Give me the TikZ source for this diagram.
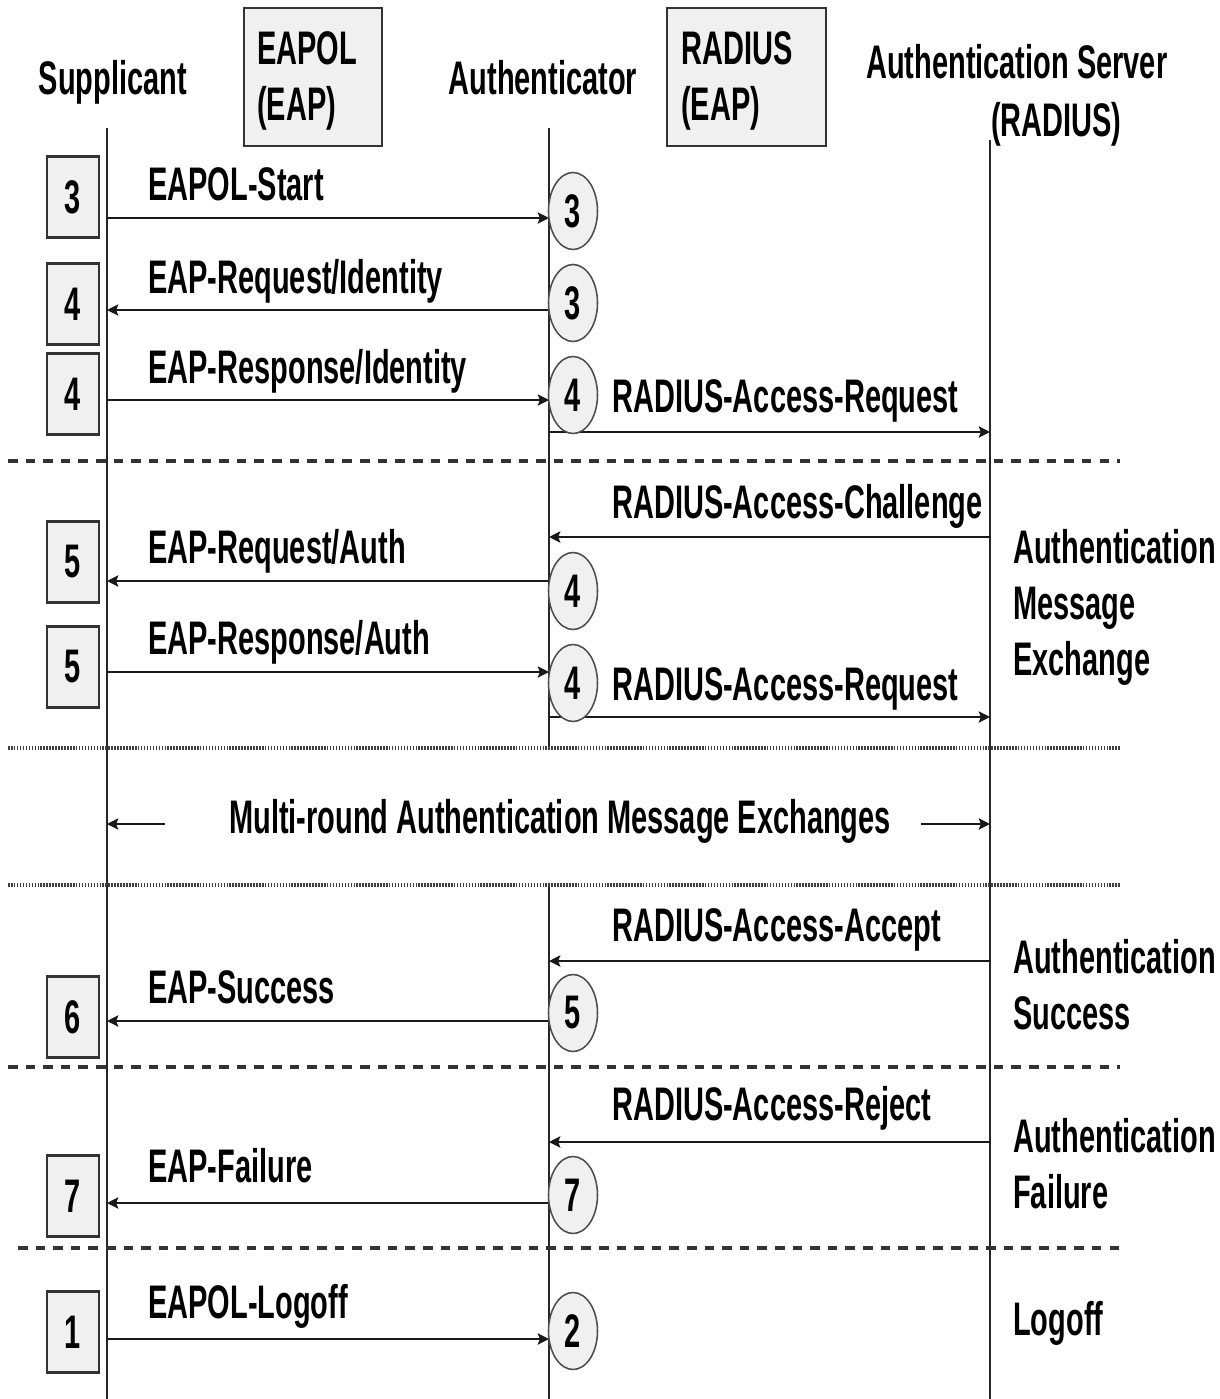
\documentclass[tikz,border=0pt]{standalone}
\usepackage{fontspec}
\usepackage{tikz}
\usetikzlibrary{arrows.meta,shapes.geometric}
\newfontfamily\diafont{Liberation Sans}[FakeStretch=0.615]

\tikzset{
  lifeline/.style={black!85,line width=1.2pt},
  msg/.style={black!90,line width=1.9pt},
  lbl/.style={inner sep=0pt,anchor=base west},
  multiline/.style={inner sep=0pt,anchor=north west,align=left},
  numbox/.style={draw=black!80,fill=gray!12,line width=1.5pt,inner sep=0pt,
    minimum width=1.3cm,minimum height=2.025cm},
  numcirc/.style={ellipse,draw=black!70,fill=gray!12,line width=1.1pt,inner sep=0pt,
    minimum width=1.225cm,minimum height=1.925cm},
  protobox/.style={draw=black!80,fill=gray!12,line width=1.5pt,inner sep=0pt,
    anchor=north west,minimum height=3.45cm},
  sepdash/.style={black!80,line width=2.8pt,dash pattern=on 0.24cm off 0.2cm},
  sepdot/.style={black!75,line width=2.8pt,dash pattern=on 1.1pt off 1pt}
}

\begin{document}
\begin{tikzpicture}[x=0.025cm,y=-0.025cm,>={Stealth[length=8pt,width=8pt,inset=1.5pt]},
  font=\diafont\bfseries\fontsize{33.5pt}{40pt}\selectfont]
\useasboundingbox (0,0) rectangle (1220,1399);

% header
\node[lbl,anchor=base] (supp) at (113,95) {Supplicant};
\node[lbl,anchor=base] (auth) at (543,95) {Authenticator};
\node[protobox,minimum width=3.45cm] (eapolbox) at (243,7) {};
\node[multiline] (eapol) at (257,31) {EAPOL\\(EAP)};
\node[protobox,minimum width=3.975cm] (radiusbox) at (666,7) {};
\node[multiline] (radius) at (681,31) {RADIUS\\(EAP)};
\node[lbl] (server) at (866,79) {Authentication Server};
\node[lbl] (serversub) at (991,137) {(RADIUS)};

% lifelines
\coordinate (s0) at (107,128);
\coordinate (s9) at (107,1399);
\coordinate (a0) at (549,128);
\coordinate (a4) at (549,748);
\coordinate (a5) at (549,885);
\coordinate (a9) at (549,1399);
\coordinate (r0) at (990,140);
\coordinate (r9) at (990,1399);
\draw[lifeline] (s0) -- (s9);
\draw[lifeline] (a0) -- (a4);
\draw[lifeline] (a5) -- (a9);
\draw[lifeline] (r0) -- (r9);

% phase separators
\draw[sepdash] (8,461) -- (1120,461);
\draw[sepdot] (8,748) -- (1120,748);
\draw[sepdot] (8,885) -- (1120,885);
\draw[sepdash] (8,1067) -- (1120,1067);
\draw[sepdash] (18,1248) -- (1120,1248);

% supplicant <-> authenticator
\coordinate (s1) at (107,218);  \coordinate (a1) at (549,218);
\coordinate (s2) at (107,310);  \coordinate (a2) at (549,310);
\coordinate (s3) at (107,400);  \coordinate (a3) at (549,400);
\coordinate (s4) at (107,581);  \coordinate (a41) at (549,581);
\coordinate (s5) at (107,672);  \coordinate (a51) at (549,672);
\coordinate (s6) at (107,1021); \coordinate (a6) at (549,1021);
\coordinate (s7) at (107,1203); \coordinate (a7) at (549,1203);
\coordinate (s8) at (107,1339); \coordinate (a8) at (549,1339);
\draw[msg,->] (s1) -- (a1);
\draw[msg,->] (a2) -- (s2);
\draw[msg,->] (s3) -- (a3);
\draw[msg,->] (a41) -- (s4);
\draw[msg,->] (s5) -- (a51);
\draw[msg,->] (a6) -- (s6);
\draw[msg,->] (a7) -- (s7);
\draw[msg,->] (s8) -- (a8);
\node[lbl] (eapolstart) at (148,200) {EAPOL-Start};
\node[lbl] (reqid) at (148,293) {EAP-Request/Identity};
\node[lbl] (respid) at (148,383) {EAP-Response/Identity};
\node[lbl] (reqauth) at (148,563) {EAP-Request/Auth};
\node[lbl] (respauth) at (148,654) {EAP-Response/Auth};
\node[lbl] (success) at (148,1003) {EAP-Success};
\node[lbl] (failure) at (148,1182) {EAP-Failure};
\node[lbl] (logoff) at (148,1318) {EAPOL-Logoff};

% authenticator <-> server
\coordinate (b1) at (549,432);  \coordinate (r1) at (990,432);
\coordinate (b2) at (549,537);  \coordinate (r2) at (990,537);
\coordinate (b3) at (549,717);  \coordinate (r3) at (990,717);
\coordinate (b4) at (549,961);  \coordinate (r4) at (990,961);
\coordinate (b5) at (549,1142); \coordinate (r5) at (990,1142);
\draw[msg,->] (b1) -- (r1);
\draw[msg,->] (r2) -- (b2);
\draw[msg,->] (b3) -- (r3);
\draw[msg,->] (r4) -- (b4);
\draw[msg,->] (r5) -- (b5);
\node[lbl] (accreq) at (612,412) {RADIUS-Access-Request};
\node[lbl] (accchal) at (612,518) {RADIUS-Access-Challenge};
\node[lbl] (accreqb) at (612,700) {RADIUS-Access-Request};
\node[lbl] (accacc) at (612,941) {RADIUS-Access-Accept};
\node[lbl] (accrej) at (612,1120) {RADIUS-Access-Reject};

% multi-round
\node[lbl] (multi) at (229,833) {Multi-round Authentication Message Exchanges};
\coordinate (mL) at (165,824); \coordinate (sM) at (107,824);
\coordinate (mR) at (921,824); \coordinate (rM) at (990,824);
\draw[msg,->] (mL) -- (sM);
\draw[msg,->] (mR) -- (rM);

% state numbers
\node[numbox] (sq1) at (73,197) {3};
\node[numbox] (sq2) at (73,304) {4};
\node[numbox] (sq3) at (73,394) {4};
\node[numbox] (sq4) at (73,562) {5};
\node[numbox] (sq5) at (73,667) {5};
\node[numbox] (sq6) at (73,1017) {6};
\node[numbox] (sq7) at (73,1196) {7};
\node[numbox] (sq8) at (73,1332) {1};
\node[numcirc] (c1) at (573,211) {3};
\node[numcirc] (c2) at (573,303) {3};
\node[numcirc] (c3) at (573,395) {4};
\node[numcirc] (c4) at (573,591) {4};
\node[numcirc] (c5) at (573,683) {4};
\node[numcirc] (c6) at (573,1013) {5};
\node[numcirc] (c7) at (573,1195) {7};
\node[numcirc] (c8) at (573,1331) {2};

% phase names
\node[multiline] (exchange) at (1013,529) {Authentication\\Message\\Exchange};
\node[multiline] (authok) at (1013,939) {Authentication\\Success};
\node[multiline] (authfail) at (1013,1118) {Authentication\\Failure};
\node[lbl] (logoffphase) at (1013,1335) {Logoff};
\end{tikzpicture}
\end{document}
